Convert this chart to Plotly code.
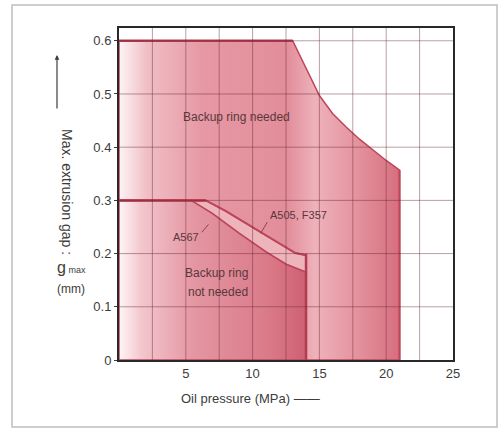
import plotly.graph_objects as go

# Boundary of "Backup ring needed" region (upper curve)
needed_x = [0, 13, 13.5, 14, 14.5, 15, 16, 17, 18, 19, 20, 21]
needed_y = [0.6, 0.6, 0.575, 0.55, 0.522, 0.497, 0.463, 0.438, 0.415, 0.395, 0.375, 0.357]

# A505, F357 limit line
a505_x = [0, 6.5, 8, 10, 12, 13.2, 14]
a505_y = [0.3, 0.3, 0.28, 0.25, 0.22, 0.201, 0.197]

# A567 limit line
a567_x = [0, 5.4, 7, 9, 11, 12.5, 14]
a567_y = [0.3, 0.3, 0.275, 0.238, 0.203, 0.18, 0.165]

x_ticks = [5, 10, 15, 20, 25]
y_ticks = [0, 0.1, 0.2, 0.3, 0.4, 0.5, 0.6]
y_ticklabels = ["0", "0.1", "0.2", "0.3", "0.4", "0.5", "0.6"]
x_grid_step = 2.5

edge = "rgb(190,70,90)"
fig = go.Figure()

# Outer region
ox = [0] + needed_x + [needed_x[-1], 0]
oy = [0] + needed_y + [0, 0]
fig.add_trace(go.Scatter(
    x=ox, y=oy, mode="lines", fill="toself",
    line=dict(color=edge, width=1.5),
    fillgradient=dict(type="horizontal", colorscale=[
        [0, "rgb(253,244,245)"], [0.1, "rgb(240,190,197)"], [0.3, "rgb(230,152,164)"],
        [0.6, "rgb(226,142,154)"], [0.7, "rgb(238,178,187)"], [0.85, "rgb(228,146,158)"],
        [1, "rgb(214,110,126)"]]),
    hoverinfo="skip", showlegend=False))

# Strip between A567 and A505 (lighter)
sx = a505_x + a567_x[::-1]
sy = a505_y + a567_y[::-1]
fig.add_trace(go.Scatter(
    x=sx, y=sy, mode="lines", fill="toself",
    line=dict(color=edge, width=1.5),
    fillcolor="rgb(238,180,188)",
    hoverinfo="skip", showlegend=False))

# Inner region (not needed)
ix = [0] + a567_x + [14, 0]
iy = [0] + a567_y + [0, 0]
fig.add_trace(go.Scatter(
    x=ix, y=iy, mode="lines", fill="toself",
    line=dict(color=edge, width=1.5),
    fillgradient=dict(type="horizontal", colorscale=[
        [0, "rgb(254,246,247)"], [0.12, "rgb(243,198,205)"], [0.4, "rgb(228,150,162)"],
        [0.8, "rgb(218,122,137)"], [1, "rgb(206,96,116)"]]),
    hoverinfo="skip", showlegend=False))

# A505 line and vertical edges
fig.add_trace(go.Scatter(x=a505_x, y=a505_y, mode="lines",
                         line=dict(color=edge, width=2), hoverinfo="skip", showlegend=False))
fig.add_trace(go.Scatter(x=[14, 14], y=[0, 0.2], mode="lines",
                         line=dict(color="rgb(180,60,80)", width=2.5), hoverinfo="skip", showlegend=False))
fig.add_trace(go.Scatter(x=[21, 21], y=[0, 0.357], mode="lines",
                         line=dict(color="rgb(190,70,90)", width=2), hoverinfo="skip", showlegend=False))
fig.add_trace(go.Scatter(x=[0, 13], y=[0.6, 0.6], mode="lines",
                         line=dict(color="rgb(180,60,80)", width=2.5), hoverinfo="skip", showlegend=False))
fig.add_trace(go.Scatter(x=[0, 6.5], y=[0.3, 0.3], mode="lines",
                         line=dict(color="rgb(180,60,80)", width=2.5), hoverinfo="skip", showlegend=False))
# leader lines
fig.add_trace(go.Scatter(x=[11.1, 10.6], y=[0.259, 0.238], mode="lines",
                         line=dict(color="rgb(140,70,80)", width=1), hoverinfo="skip", showlegend=False))
fig.add_trace(go.Scatter(x=[6.2, 6.7], y=[0.24, 0.255], mode="lines",
                         line=dict(color="rgb(140,70,80)", width=1), hoverinfo="skip", showlegend=False))

# grid lines drawn above the fills
grid = "rgba(105,40,50,0.45)"
gx = x_grid_step
while gx < 25 - 1e-9:
    fig.add_shape(type="line", xref="x", yref="paper", x0=gx, x1=gx, y0=0, y1=1,
                  line=dict(color=grid, width=1), layer="above")
    gx += x_grid_step
for gy in y_ticks[1:]:
    fig.add_shape(type="line", xref="paper", yref="y", x0=0, x1=1, y0=gy, y1=gy,
                  line=dict(color=grid, width=1), layer="above")

txt = "rgb(90,55,60)"
font = dict(family="Liberation Sans, Arial", size=12, color=txt)
fig.add_annotation(x=8.76, y=0.457, text="Backup ring needed", showarrow=False, font=font)
fig.add_annotation(x=13.4, y=0.273, text="A505, F357", showarrow=False, font=dict(family="Liberation Sans, Arial", size=11, color=txt))
fig.add_annotation(x=5.0, y=0.231, text="A567", showarrow=False, font=dict(family="Liberation Sans, Arial", size=11, color=txt))
fig.add_annotation(x=7.3, y=0.163, text="Backup ring", showarrow=False, font=font)
fig.add_annotation(x=7.4, y=0.127, text="not needed", showarrow=False, font=font)

gfont = dict(family="Liberation Sans, Arial", size=13, color="rgb(60,60,60)")
# axis titles
fig.add_annotation(xref="paper", yref="paper", x=(250 - 119) / 334, y=(360 - 408) / 332,
                   text="Oil pressure (MPa) ——", showarrow=False, font=gfont)
fig.add_annotation(xref="paper", yref="paper", x=(57 - 119) / 334, y=(360 - 192) / 332,
                   text="Max. extrusion gap :", textangle=90, showarrow=False,
                   font=dict(family="Liberation Sans, Arial", size=14, color="rgb(60,60,60)"))
fig.add_annotation(xref="paper", yref="paper", x=(57 - 119) / 334, y=(360 - 55) / 332,
                   ax=0, ay=55, axref="pixel", ayref="pixel",
                   text="", showarrow=True, arrowhead=2, arrowsize=0.8, arrowwidth=1.2,
                   arrowcolor="rgb(60,60,60)", standoff=0, startstandoff=0)
fig.add_annotation(xref="paper", yref="paper", x=(55 - 119) / 334, y=(360 - 278) / 332,
                   text="g<span style='font-size:9px'> max</span>", showarrow=False,
                   font=dict(family="Liberation Sans, Arial", size=16, color="rgb(60,60,60)"))
fig.add_annotation(xref="paper", yref="paper", x=(55 - 119) / 334, y=(360 - 298) / 332,
                   text="(mm)", showarrow=False,
                   font=dict(family="Liberation Sans, Arial", size=12, color="rgb(60,60,60)"))

# outer frame
fig.add_shape(type="rect", xref="paper", yref="paper",
              x0=(12 - 119) / 334, x1=(497 - 119) / 334,
              y0=(360 - 427) / 332, y1=(360 - 5) / 332,
              line=dict(color="rgb(190,190,190)", width=1.5))

fig.update_xaxes(range=[0, 25], tickvals=x_ticks, showgrid=False,
                 showline=True, linecolor="rgb(40,40,40)", linewidth=2, mirror=True,
                 ticks="", zeroline=False, layer="above traces", tickfont=gfont)
fig.update_yaxes(range=[0, 0.624], tickvals=y_ticks, ticktext=y_ticklabels,
                 showgrid=False,
                 showline=True, linecolor="rgb(40,40,40)", linewidth=2, mirror=True,
                 ticks="outside", ticklen=3, tickcolor="rgb(60,60,60)",
                 zeroline=False, layer="above traces", tickfont=gfont)

fig.update_layout(width=504, height=432, margin=dict(l=119, r=51, t=28, b=72),
                  plot_bgcolor="white", paper_bgcolor="white", showlegend=False)

fig.write_html("out.html", config={"displayModeBar": False},
               post_script="document.body.style.margin='0';")
